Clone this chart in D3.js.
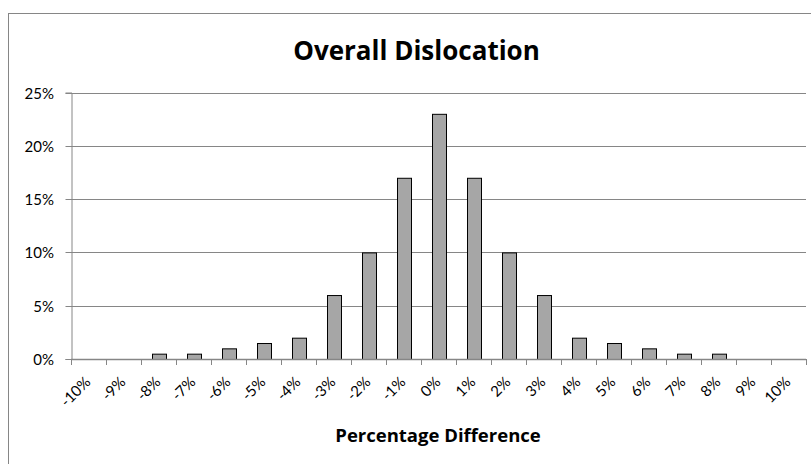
<!DOCTYPE html>
<html>
<head>
<meta charset="utf-8">
<script src="https://cdn.jsdelivr.net/npm/d3@7"></script>
<style>
  html, body { margin: 0; padding: 0; background: #fff; }
  svg { display: block; }
</style>
</head>
<body>
<script>
const categories = ["-10%","-9%","-8%","-7%","-6%","-5%","-4%","-3%","-2%","-1%","0%","1%","2%","3%","4%","5%","6%","7%","8%","9%","10%"];
const values = [0, 0, 0.5, 0.5, 1, 1.5, 2, 6, 10, 17, 23, 17, 10, 6, 2, 1.5, 1, 0.5, 0.5, 0, 0];
const yTicks = [0, 5, 10, 15, 20, 25];
const title = "Overall Dislocation";
const xTitle = "Percentage Difference";

(function () {
const W = 811, H = 464;
const svg = d3.select("body").append("svg").attr("width", W).attr("height", H);
const labelFont = "Lato, 'Open Sans', sans-serif";
const titleFont = "'Open Sans', Lato, sans-serif";

// outer chart border
svg.append("rect").attr("x", 8.5).attr("y", 13.5).attr("width", 820).attr("height", 460)
  .attr("fill", "#fff").attr("stroke", "#868686").attr("stroke-width", 1);

const pl = 71, pr = 806, pt = 92.5, pb = 359;
const x = d3.scaleBand().domain(categories).range([pl, pr]).paddingInner(0.6).paddingOuter(0.3);
const xb = d3.scaleBand().domain(categories).range([pl, pr]);
const y = d3.scaleLinear().domain([0, 25]).range([pb, pt]);

// gridlines
svg.append("g").selectAll("line").data(yTicks.filter(d => d > 0)).join("line")
  .attr("x1", pl).attr("x2", pr)
  .attr("y1", d => Math.round(y(d)) + 0.5).attr("y2", d => Math.round(y(d)) + 0.5)
  .attr("stroke", "#868686").attr("stroke-width", 1);

// y axis (line + ticks from d3 axis, labels drawn separately)
const yAxis = d3.axisLeft(y).tickValues(yTicks).tickSize(6).tickFormat("");
const gy = svg.append("g").attr("transform", `translate(${pl + 0.5},0)`).call(yAxis);
gy.select(".domain").attr("stroke", "#868686");
gy.selectAll(".tick line").attr("stroke", "#868686");
gy.selectAll(".tick").attr("transform", d => `translate(0,${Math.round(y(d)) + 0.5})`);
svg.append("g").selectAll("text").data(yTicks).join("text")
  .attr("x", 54).attr("y", d => Math.round(y(d)) + 0.5).attr("dy", "0.36em")
  .attr("text-anchor", "end")
  .style("font-family", labelFont).style("font-size", "15px").attr("fill", "#000")
  .text(d => d + "%");

// bars
svg.append("g").selectAll("rect").data(values).join("rect")
  .attr("x", (d, i) => Math.round(x(categories[i])) + 0.5)
  .attr("width", x.bandwidth())
  .attr("y", d => y(d) + 0.5)
  .attr("height", d => Math.max(0, pb - y(d)))
  .attr("fill", "#a6a6a6").attr("stroke", "#000").attr("stroke-width", 1)
  .attr("display", d => d > 0 ? null : "none");

// x axis line and ticks at band boundaries
const gx = svg.append("g");
gx.append("line").attr("x1", pl).attr("x2", pr).attr("y1", pb + 0.5).attr("y2", pb + 0.5)
  .attr("stroke", "#868686").attr("stroke-width", 1.5);
const bounds = categories.map(c => xb(c)).concat([pr]);
gx.selectAll("line.t").data(bounds).join("line").attr("class", "t")
  .attr("x1", d => Math.round(d) + 0.5).attr("x2", d => Math.round(d) + 0.5)
  .attr("y1", pb).attr("y2", pb + 6)
  .attr("stroke", "#868686");

// x labels rotated
gx.selectAll("text").data(categories).join("text")
  .attr("transform", d => `translate(${xb(d) + xb.bandwidth() / 2 + 3},${pb + 24}) rotate(-45)`)
  .attr("text-anchor", "end")
  .style("font-family", labelFont).style("font-size", "15px").attr("fill", "#000")
  .text(d => d);

// titles
svg.append("text").attr("x", 416.5).attr("y", 59.5).attr("text-anchor", "middle")
  .style("font-family", titleFont).style("font-size", "26px").style("font-weight", "bold")
  .attr("fill", "#000").text(title);
svg.append("text").attr("x", 438).attr("y", 441.5).attr("text-anchor", "middle")
  .style("font-family", titleFont).style("font-size", "18.5px").style("font-weight", "bold")
  .attr("fill", "#000").text(xTitle);
})();
</script>
</body>
</html>
